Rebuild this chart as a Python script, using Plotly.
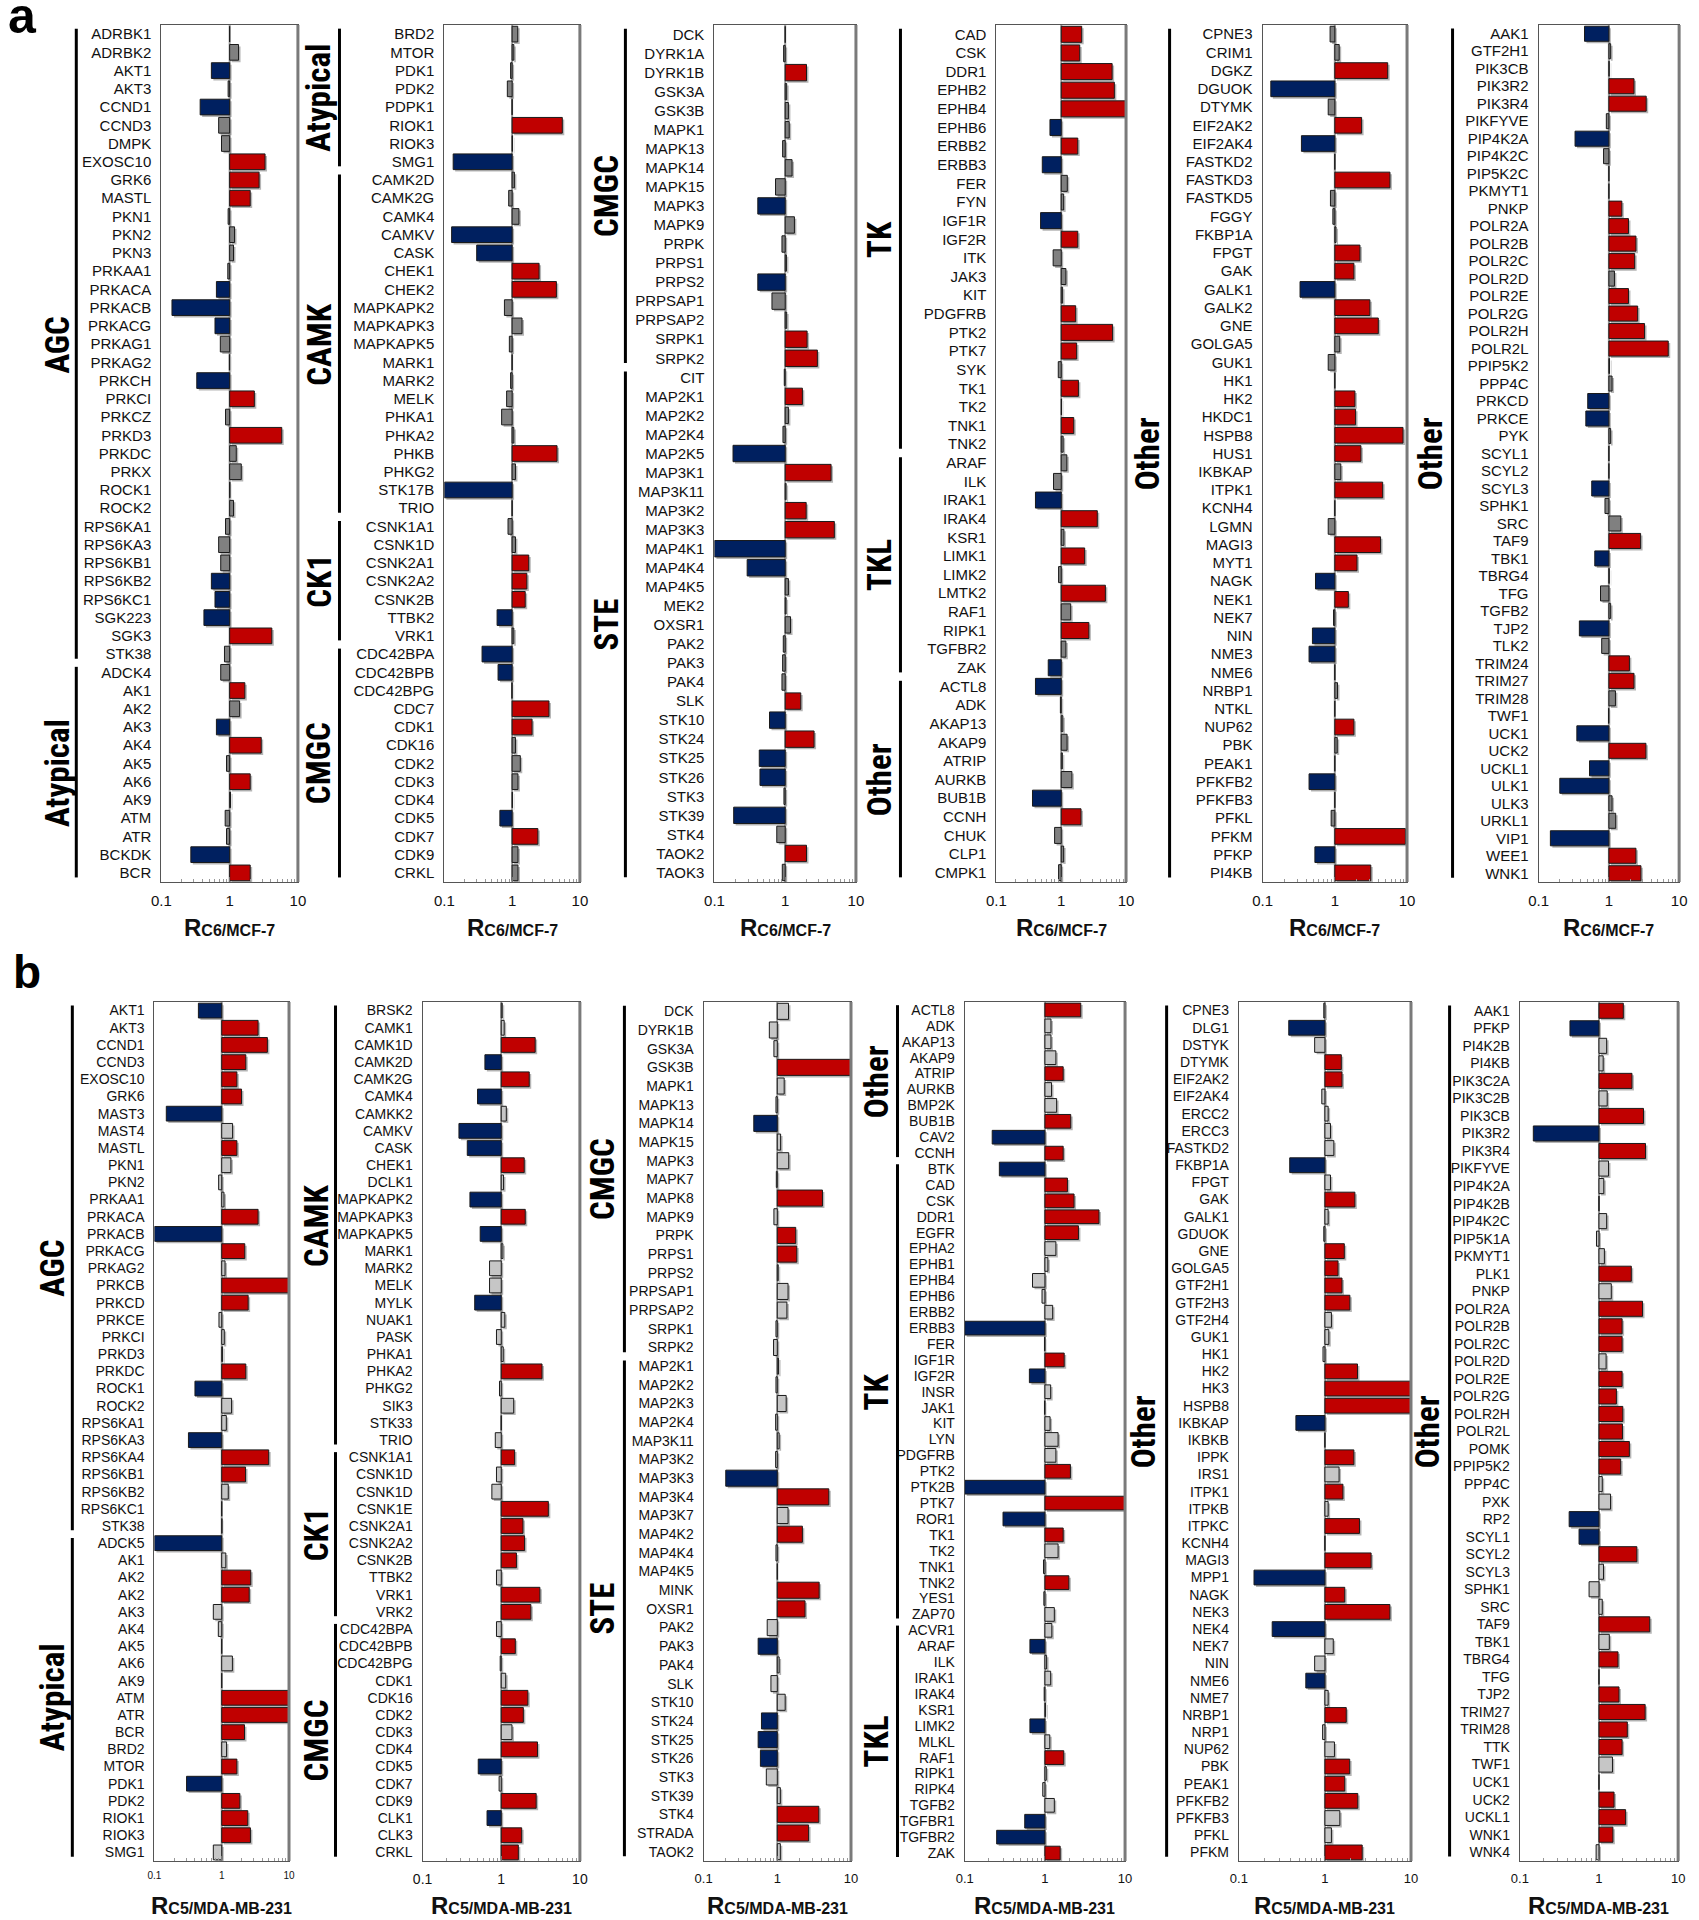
import plotly.graph_objects as go

# ================= DATA =================
# Status: U = up (red), D = down (blue), N = not changed (gray)

# ---- Panel a : R C6/MCF-7 ----
a1_labels = ["ADRBK1","ADRBK2","AKT1","AKT3","CCND1","CCND3","DMPK","EXOSC10","GRK6","MASTL","PKN1","PKN2","PKN3","PRKAA1","PRKACA","PRKACB","PRKACG","PRKAG1","PRKAG2","PRKCH","PRKCI","PRKCZ","PRKD3","PRKDC","PRKX","ROCK1","ROCK2","RPS6KA1","RPS6KA3","RPS6KB1","RPS6KB2","RPS6KC1","SGK223","SGK3","STK38","ADCK4","AK1","AK2","AK3","AK4","AK5","AK6","AK9","ATM","ATR","BCKDK","BCR"]
a1_values = [1.0,1.35,0.54,0.95,0.37,0.69,0.76,3.3,2.7,2.0,0.95,1.18,1.14,0.94,0.64,0.143,0.61,0.73,0.99,0.33,2.3,0.87,5.8,1.25,1.48,1.01,1.14,0.87,0.69,0.74,0.54,0.61,0.42,4.15,0.84,0.74,1.67,1.40,0.64,2.9,0.9,2.0,1.03,0.86,0.9,0.27,2.0]
a1_status = "NNDNDNNUUUNNNNDDDNNDUNUNNNNNNNDDDUN" + "NUNDUNUNNNDU"
a1_groups = [("AGC", 35), ("Atypical", 12)]

a2_labels = ["BRD2","MTOR","PDK1","PDK2","PDPK1","RIOK1","RIOK3","SMG1","CAMK2D","CAMK2G","CAMK4","CAMKV","CASK","CHEK1","CHEK2","MAPKAPK2","MAPKAPK3","MAPKAPK5","MARK1","MARK2","MELK","PHKA1","PHKA2","PHKB","PHKG2","STK17B","TRIO","CSNK1A1","CSNK1D","CSNK2A1","CSNK2A2","CSNK2B","TTBK2","VRK1","CDC42BPA","CDC42BPB","CDC42BPG","CDC7","CDK1","CDK16","CDK2","CDK3","CDK4","CDK5","CDK7","CDK9","CRKL"]
a2_values = [1.21,1.06,0.95,0.85,1.0,5.5,1.01,0.135,1.08,0.89,1.26,0.128,0.30,2.5,4.5,0.77,1.40,0.91,1.0,0.95,0.83,0.70,1.06,4.6,1.12,0.1,1.0,0.87,1.12,1.76,1.65,1.56,0.60,1.06,0.36,0.62,0.99,3.5,1.97,1.12,1.32,1.22,1.01,0.66,2.4,1.22,1.22]
a2_status = "NNNNNUND" + "NNNDDUUNNNNNNNNUNDN" + "NNUUUDN" + "DDNUUNNNNDUNN"
a2_groups = [("Atypical", 8), ("CAMK", 19), ("CK1", 7), ("CMGC", 13)]

a3_labels = ["DCK","DYRK1A","DYRK1B","GSK3A","GSK3B","MAPK1","MAPK13","MAPK14","MAPK15","MAPK3","MAPK9","PRPK","PRPS1","PRPS2","PRPSAP1","PRPSAP2","SRPK1","SRPK2","CIT","MAP2K1","MAP2K2","MAP2K4","MAP2K5","MAP3K1","MAP3K11","MAP3K2","MAP3K3","MAP4K1","MAP4K4","MAP4K5","MEK2","OXSR1","PAK2","PAK3","PAK4","SLK","STK10","STK24","STK25","STK26","STK3","STK39","STK4","TAOK2","TAOK3"]
a3_values = [1.0,0.95,2.0,1.05,1.11,1.14,0.92,1.25,0.73,0.41,1.35,0.90,1.04,0.41,0.65,1.05,2.04,2.85,0.97,1.75,1.11,0.93,0.183,4.45,1.03,1.98,4.95,0.1,0.29,1.11,1.03,1.19,0.94,0.92,0.90,1.66,0.60,2.56,0.43,0.44,0.96,0.187,0.76,2.0,0.91]
a3_status = "NNUNNNNNNDNNNDNNUU" + "NUNNDUNUUDDNNNNNNUDUDDNDNUN"
a3_groups = [("CMGC", 18), ("STE", 27)]

a4_labels = ["CAD","CSK","DDR1","EPHB2","EPHB4","EPHB6","ERBB2","ERBB3","FER","FYN","IGF1R","IGF2R","ITK","JAK3","KIT","PDGFRB","PTK2","PTK7","SYK","TK1","TK2","TNK1","TNK2","ARAF","ILK","IRAK1","IRAK4","KSR1","LIMK1","LIMK2","LMTK2","RAF1","RIPK1","TGFBR2","ZAK","ACTL8","ADK","AKAP13","AKAP9","ATRIP","AURKB","BUB1B","CCNH","CHUK","CLP1","CMPK1"]
a4_values = [2.07,1.93,6.1,6.6,10,0.67,1.8,0.51,1.24,1.09,0.48,1.8,0.75,1.18,1.05,1.67,6.2,1.73,0.9,1.84,1.01,1.56,1.07,1.22,0.76,0.40,3.6,1.1,2.3,0.91,4.8,1.40,2.67,1.18,0.63,0.40,0.97,1.06,1.23,1.04,1.46,0.36,2.02,0.79,1.09,0.91]
a4_status = "UUUUUDUDNNDUNNNUUUNUNUN" + "NNDUNUNUNUND" + "DNNNNNDUNNN"
a4_groups = [("TK", 23), ("TKL", 12), ("Other", 11)]

a5_labels = ["CPNE3","CRIM1","DGKZ","DGUOK","DTYMK","EIF2AK2","EIF2AK4","FASTKD2","FASTKD3","FASTKD5","FGGY","FKBP1A","FPGT","GAK","GALK1","GALK2","GNE","GOLGA5","GUK1","HK1","HK2","HKDC1","HSPB8","HUS1","IKBKAP","ITPK1","KCNH4","LGMN","MAGI3","MYT1","NAGK","NEK1","NEK7","NIN","NME3","NME6","NRBP1","NTKL","NUP62","PBK","PEAK1","PFKFB2","PFKFB3","PFKL","PFKM","PFKP","PI4KB"]
a5_values = [0.86,1.15,5.4,0.13,0.81,2.35,0.345,1.0,5.8,0.87,0.94,1.04,2.23,1.84,0.33,3.06,4.0,1.17,0.81,1.0,1.9,1.94,8.8,2.3,1.21,4.6,1.0,0.81,4.3,2.03,0.54,1.54,0.96,0.49,0.44,1.0,1.09,1.0,1.84,1.08,1.0,0.44,1.0,0.89,9.5,0.53,3.15]
a5_status = "NNUDNUDNUN" + "NNUUDUUNNN" + "UUUUNUNNUU" + "DUNDDNNNUN" + "NDNNUDU"
a5_groups = [("Other", 47)]

a6_labels = ["AAK1","GTF2H1","PIK3CB","PIK3R2","PIK3R4","PIKFYVE","PIP4K2A","PIP4K2C","PIP5K2C","PKMYT1","PNKP","POLR2A","POLR2B","POLR2C","POLR2D","POLR2E","POLR2G","POLR2H","POLR2L","PPIP5K2","PPP4C","PRKCD","PRKCE","PYK","SCYL1","SCYL2","SCYL3","SPHK1","SRC","TAF9","TBK1","TBRG4","TFG","TGFB2","TJP2","TLK2","TRIM24","TRIM27","TRIM28","TWF1","UCK1","UCK2","UCKL1","ULK1","ULK3","URKL1","VIP1","WEE1","WNK1"]
a6_values = [0.45,1.06,1.01,2.28,3.4,0.92,0.33,0.84,1.0,1.0,1.53,1.9,2.43,2.33,1.2,1.9,2.57,3.22,7.0,1.02,1.11,0.50,0.47,1.06,1.0,1.0,0.57,0.88,1.48,2.83,0.63,1.01,0.76,1.06,0.38,0.79,1.96,2.28,1.24,0.99,0.35,3.37,0.53,0.20,1.11,1.25,0.147,2.43,2.86]
a6_status = "DNNUUNDNNN" + "UUUUNUUUUN" + "NDDNNNDNNU" + "DNNNDNUUNN" + "DUDDNNDUU"
a6_groups = [("Other", 49)]

# ---- Panel b : R C5/MDA-MB-231 ----
b1_labels = ["AKT1","AKT3","CCND1","CCND3","EXOSC10","GRK6","MAST3","MAST4","MASTL","PKN1","PKN2","PRKAA1","PRKACA","PRKACB","PRKACG","PRKAG2","PRKCB","PRKCD","PRKCE","PRKCI","PRKD3","PRKDC","ROCK1","ROCK2","RPS6KA1","RPS6KA3","RPS6KA4","RPS6KB1","RPS6KB2","RPS6KC1","STK38","ADCK5","AK1","AK2","AK2","AK3","AK4","AK5","AK6","AK9","ATM","ATR","BCR","BRD2","MTOR","PDK1","PDK2","RIOK1","RIOK3","SMG1"]
b1_values = [0.45,3.47,4.77,2.28,1.68,1.97,0.15,1.45,1.68,1.37,0.9,1.08,3.47,0.1,2.2,1.12,10,2.47,0.91,1.09,1.03,2.28,0.40,1.40,1.17,0.32,4.99,2.26,1.25,1.0,1.01,0.1,1.15,2.7,2.56,0.75,0.89,1.0,1.44,1.0,10,10,2.18,1.18,1.68,0.30,1.86,2.44,2.67,0.75]
b1_status = "DUUUUUDNUN" + "NNUDUNUUNN" + "NUDNNDUUNN" + "NDNUUNNNNN" + "UUUNUDUUUN"
b1_groups = [("AGC", 31), ("Atypical", 19)]

b2_labels = ["BRSK2","CAMK1","CAMK1D","CAMK2D","CAMK2G","CAMK4","CAMKK2","CAMKV","CASK","CHEK1","DCLK1","MAPKAPK2","MAPKAPK3","MAPKAPK5","MARK1","MARK2","MELK","MYLK","NUAK1","PASK","PHKA1","PHKA2","PHKG2","SIK3","STK33","TRIO","CSNK1A1","CSNK1D","CSNK1D","CSNK1E","CSNK2A1","CSNK2A2","CSNK2B","TTBK2","VRK1","VRK2","CDC42BPA","CDC42BPB","CDC42BPG","CDK1","CDK16","CDK2","CDK3","CDK4","CDK5","CDK7","CDK9","CLK1","CLK3","CRKL"]
b2_values = [1.03,1.09,2.7,0.62,2.27,0.50,1.16,0.29,0.37,1.96,1.07,0.40,2.02,0.54,1.05,0.71,0.71,0.46,1.11,0.87,1.06,3.3,0.95,1.44,1.0,0.84,1.48,0.87,0.76,3.97,1.89,1.98,1.56,0.87,3.1,2.38,0.87,1.51,0.97,1.14,2.18,1.91,1.37,2.89,0.51,0.94,2.78,0.66,1.82,1.65]
b2_status = "NNUDUDNDDU" + "NDUDNNNDNN" + "NUNNNNUNNU" + "UUUNUUNUNN" + "UUNUDNUDUU"
b2_groups = [("CAMK", 26), ("CK1", 10), ("CMGC", 14)]

b3_labels = ["DCK","DYRK1B","GSK3A","GSK3B","MAPK1","MAPK13","MAPK14","MAPK15","MAPK3","MAPK7","MAPK8","MAPK9","PRPK","PRPS1","PRPS2","PRPSAP1","PRPSAP2","SRPK1","SRPK2","MAP2K1","MAP2K2","MAP2K3","MAP2K4","MAP3K11","MAP3K2","MAP3K3","MAP3K4","MAP3K7","MAP4K2","MAP4K4","MAP4K5","MINK","OXSR1","PAK2","PAK3","PAK4","SLK","STK10","STK24","STK25","STK26","STK3","STK39","STK4","STRADA","TAOK2"]
b3_values = [1.42,0.78,0.90,10,1.24,0.96,0.48,1.11,1.43,0.97,4.1,0.90,1.78,1.84,1.03,1.40,1.35,0.96,0.89,1.04,0.96,1.32,0.95,1.06,0.95,0.20,5.0,1.40,2.19,0.96,1.0,3.7,2.38,0.73,0.55,1.06,0.82,1.28,0.61,0.55,0.59,0.71,1.10,3.66,2.66,1.10]
b3_status = "NNNUNNDNNN" + "UNUUNNNNNN" + "NNNNNDUNUN" + "NUUNDNNNDD" + "DNNUUN"
b3_groups = [("CMGC", 19), ("STE", 27)]

b4_labels = ["ACTL8","ADK","AKAP13","AKAP9","ATRIP","AURKB","BMP2K","BUB1B","CAV2","CCNH","BTK","CAD","CSK","DDR1","EGFR","EPHA2","EPHB1","EPHB4","EPHB6","ERBB2","ERBB3","FER","IGF1R","IGF2R","INSR","JAK1","KIT","LYN","PDGFRB","PTK2","PTK2B","PTK7","ROR1","TK1","TK2","TNK1","TNK2","YES1","ZAP70","ACVR1","ARAF","ILK","IRAK1","IRAK4","KSR1","LIMK2","MLKL","RAF1","RIPK1","RIPK4","TGFB2","TGFBR1","TGFBR2","ZAK"]
b4_values = [2.8,1.19,1.19,1.37,1.69,1.21,1.40,2.1,0.22,1.69,0.27,1.91,2.31,4.73,2.62,1.37,1.09,0.70,0.92,1.25,0.1,0.99,1.74,0.64,1.18,0.99,1.16,1.46,1.37,2.08,0.1,10,0.30,1.69,1.46,0.96,1.99,0.97,1.31,1.22,0.65,1.05,1.18,0.98,1.02,0.65,1.15,1.72,1.04,0.94,1.31,0.56,0.25,1.55]
b4_status = "UNNNUNNUDU" + "DUUUUNNNNN" + "DNUDNNNNNU" + "DUDUNNUNNN" + "DNNNNDNUNN" + "NDDU"
b4_groups = [("Other", 10), ("TK", 29), ("TKL", 15)]

b5_labels = ["CPNE3","DLG1","DSTYK","DTYMK","EIF2AK2","EIF2AK4","ERCC2","ERCC3","FASTKD2","FKBP1A","FPGT","GAK","GALK1","GDUOK","GNE","GOLGA5","GTF2H1","GTF2H3","GTF2H4","GUK1","HK1","HK2","HK3","HSPB8","IKBKAP","IKBKB","IPPK","IRS1","ITPK1","ITPKB","ITPKC","KCNH4","MAGI3","MPP1","NAGK","NEK3","NEK4","NEK7","NIN","NME6","NME7","NRBP1","NRP1","NUP62","PBK","PEAK1","PFKFB2","PFKFB3","PFKL","PFKM"]
b5_values = [0.97,0.38,0.76,1.55,1.58,0.92,1.09,1.16,1.27,0.39,1.16,2.23,1.09,0.97,1.68,1.42,1.58,1.95,1.19,1.11,0.95,2.39,10,10,0.46,1.0,2.17,1.46,1.62,1.09,2.52,1.0,3.44,0.15,1.7,5.69,0.244,1.25,0.76,0.60,1.09,1.77,0.94,1.29,1.94,1.7,2.41,1.49,1.19,2.71]
b5_status = "NDNUUNNNND" + "NUNNUUUUNN" + "NUUUDNUNUN" + "UNUDUUDNND" + "NUNNUUUNNU"
b5_groups = [("Other", 50)]

b6_labels = ["AAK1","PFKP","PI4K2B","PI4KB","PIK3C2A","PIK3C2B","PIK3CB","PIK3R2","PIK3R4","PIKFYVE","PIP4K2A","PIP4K2B","PIP4K2C","PIP5K1A","PKMYT1","PLK1","PNKP","POLR2A","POLR2B","POLR2C","POLR2D","POLR2E","POLR2G","POLR2H","POLR2L","POMK","PPIP5K2","PPP4C","PXK","RP2","SCYL1","SCYL2","SCYL3","SPHK1","SRC","TAF9","TBK1","TBRG4","TFG","TJP2","TRIM27","TRIM28","TTK","TWF1","UCK1","UCK2","UCKL1","WNK1","WNK4"]
b6_values = [2.03,0.43,1.25,1.13,2.61,1.27,3.65,0.148,3.87,1.32,1.15,1.0,1.25,0.93,1.17,2.56,1.43,3.55,1.96,1.96,1.23,1.96,1.66,2.0,1.98,2.42,1.88,1.1,1.4,0.42,0.56,3.01,1.14,0.75,1.1,4.38,1.35,1.74,1.0,1.79,3.83,2.28,1.96,1.48,1.0,1.55,2.17,1.5,0.92]
b6_status = "UDNNUNUDUN" + "NNNNNUNUUU" + "NUUUUUUNND" + "DUNNNUNUNU" + "UUUNNUUUN"
b6_groups = [("Other", 49)]

row_a_title = "C6/MCF-7"
row_b_title = "C5/MDA-MB-231"

panels = [
    ("a", a1_labels, a1_values, a1_status, a1_groups),
    ("a", a2_labels, a2_values, a2_status, a2_groups),
    ("a", a3_labels, a3_values, a3_status, a3_groups),
    ("a", a4_labels, a4_values, a4_status, a4_groups),
    ("a", a5_labels, a5_values, a5_status, a5_groups),
    ("a", a6_labels, a6_values, a6_status, a6_groups),
    ("b", b1_labels, b1_values, b1_status, b1_groups),
    ("b", b2_labels, b2_values, b2_status, b2_groups),
    ("b", b3_labels, b3_values, b3_status, b3_groups),
    ("b", b4_labels, b4_values, b4_status, b4_groups),
    ("b", b5_labels, b5_values, b5_status, b5_groups),
    ("b", b6_labels, b6_values, b6_status, b6_groups),
]

# ================= LAYOUT (pixels) =================
W, H = 1699, 1920
ROW_Y = {"a": (25, 882), "b": (1002, 1861)}
BOX_X = [(153, 291), (439, 576), (712, 855), (997, 1128), (1266, 1412), (1545, 1687),
         (146, 282), (417, 576), (701, 850), (965, 1127), (1242, 1416), (1526, 1686)]
BRACKET_X = [67, 333, 622, 900, 1172, 1458, 63, 329, 621, 897, 1169, 1455]
GROUP_X = [48, 312, 603, 879, 1150, 1436, 43, 310, 599, 876, 1146, 1433]
XTICK_SIZE = [15, 15, 15, 15, 15, 15, 10, 14, 13, 13, 13, 13]
LABEL_SIZE = {"a": 15, "b": 14}
TITLE_Y = {"a": 927, "b": 1905}
GRAY = {"a": "#808080", "b": "#C6C6C6"}
STATUS_COLORS = {"U": "#C00000", "D": "#002060"}
SHADOW_PX = 2.0
FONT = "Liberation Sans, Arial, sans-serif"
GROUP_FONT = "Liberation Sans Narrow, Arial Narrow, Roboto Condensed, Liberation Sans, sans-serif"

def fx(p):
    return p / W

def fy(p):
    return 1 - p / H

fig = go.Figure()
shapes, annotations = [], []
minor_vals = [0.2, 0.3, 0.4, 0.5, 0.6, 0.7, 0.8, 0.9, 2, 3, 4, 5, 6, 7, 8, 9]

for i, (row, labels, values, status, groups) in enumerate(panels, start=1):
    n = len(labels)
    assert len(values) == n and len(status) == n, (i, n, len(values), len(status))
    assert sum(c for _, c in groups) == n, (i, "groups")
    sfx = "" if i == 1 else str(i)
    xa, ya = "x" + sfx, "y" + sfx
    x0, x1 = BOX_X[i - 1]
    top, bot = ROW_Y[row]
    colors = [STATUS_COLORS.get(s, GRAY[row]) for s in status]
    lows = [min(v, 1) for v in values]
    highs = [max(v, 1) for v in values]

    # soft drop shadow (offset a couple of pixels right / down)
    kx = 10 ** (SHADOW_PX / ((x1 - x0) / 2.0))
    dy = SHADOW_PX / ((bot - top) / n)
    sh_lo = [lo * kx for lo in lows]
    sh_hi = [min(hi * kx, 10.0) for hi in highs]
    fig.add_trace(go.Bar(
        orientation="h", y=[k + dy for k in range(n)],
        x=[h - l for l, h in zip(sh_lo, sh_hi)], base=sh_lo, width=0.86,
        marker=dict(color="rgba(120,120,120,0.55)", line=dict(width=0)),
        hoverinfo="skip", xaxis=xa, yaxis=ya, showlegend=False,
    ))
    fig.add_trace(go.Bar(
        orientation="h",
        y=list(range(n)),
        x=[h - l for l, h in zip(lows, highs)],
        base=lows,
        width=0.86,
        marker=dict(color=colors, line=dict(color="#1a1a1a", width=1)),
        customdata=[[lab, v] for lab, v in zip(labels, values)],
        hovertemplate="%{customdata[0]}: %{customdata[1]}<extra></extra>",
        xaxis=xa, yaxis=ya, showlegend=False,
    ))
    fig.update_layout({
        "xaxis" + sfx: dict(
            domain=[fx(x0), fx(x1)], anchor=ya, type="log", range=[-1, 1],
            tickmode="array", tickvals=[0.1, 1, 10], ticktext=["0.1", "1", "10"],
            ticks="inside", ticklen=5, tickcolor="#777",
            minor=dict(tickmode="array", tickvals=minor_vals, ticks="inside", ticklen=3, tickcolor="#999"),
            showline=True, mirror=True, linecolor="#555", linewidth=1.2,
            showgrid=False, zeroline=False, ticklabelstandoff=5,
            tickfont=dict(family=FONT, size=XTICK_SIZE[i - 1], color="#111"),
        ),
        "yaxis" + sfx: dict(
            domain=[fy(bot), fy(top)], anchor=xa, range=[n - 0.5, -0.5],
            tickmode="array", tickvals=list(range(n)), ticktext=labels,
            ticks="", showline=True, mirror=True, linecolor="#555", linewidth=1.2,
            showgrid=False, zeroline=False, ticklabelstandoff=6,
            tickfont=dict(family=FONT, size=LABEL_SIZE[row], color="#111"),
        ),
    })
    # reference line at ratio 1
    shapes.append(dict(type="line", xref=xa, x0=1, x1=1, yref=ya + " domain", y0=0, y1=1,
                       line=dict(color="#9a9a9a", width=2), layer="below"))
    # thicker right frame edge
    shapes.append(dict(type="line", xref=xa + " domain", x0=1, x1=1, yref=ya + " domain", y0=0, y1=1,
                       line=dict(color="#7a7a7a", width=3)))
    # family brackets + labels
    start = 0
    for name, count in groups:
        end = start + count - 1
        shapes.append(dict(type="line", xref="paper", x0=fx(BRACKET_X[i - 1]), x1=fx(BRACKET_X[i - 1]),
                           yref=ya, y0=start - 0.3, y1=end + 0.25, line=dict(color="black", width=3)))
        annotations.append(dict(text="<b>" + name + "</b>", xref="paper", x=fx(GROUP_X[i - 1]),
                                yref=ya, y=(start + end) / 2, textangle=-90, showarrow=False,
                                xanchor="center", yanchor="middle",
                                font=dict(family=GROUP_FONT, size=33, color="black")))
        start = end + 1
    # axis title
    sub = row_a_title if row == "a" else row_b_title
    annotations.append(dict(text="<b>R<span style='font-size:16px'>" + sub.upper() + "</span></b>",
                            xref="paper", x=fx((x0 + x1) / 2), yref="paper", y=fy(TITLE_Y[row]),
                            showarrow=False, xanchor="center", yanchor="middle",
                            font=dict(family=FONT, size=24, color="#111")))

annotations.append(dict(text="<b>a</b>", xref="paper", yref="paper", x=fx(-4), y=fy(-14),
                        xanchor="left", yanchor="top", showarrow=False,
                        font=dict(family=FONT, size=50, color="black")))
annotations.append(dict(text="<b>b</b>", xref="paper", yref="paper", x=fx(1), y=fy(944),
                        xanchor="left", yanchor="top", showarrow=False,
                        font=dict(family=FONT, size=46, color="black")))

fig.update_layout(
    width=W, height=H, autosize=False,
    margin=dict(l=0, r=0, t=0, b=0),
    paper_bgcolor="white", plot_bgcolor="white",
    barmode="overlay", bargap=0.1,
    shapes=shapes, annotations=annotations,
    font=dict(family=FONT, color="#111"),
)

fig.write_html(
    "out.html",
    config={"displayModeBar": False},
    post_script="document.body.style.margin='0px';document.body.style.padding='0px';"
                "document.documentElement.style.overflow='hidden';",
)
